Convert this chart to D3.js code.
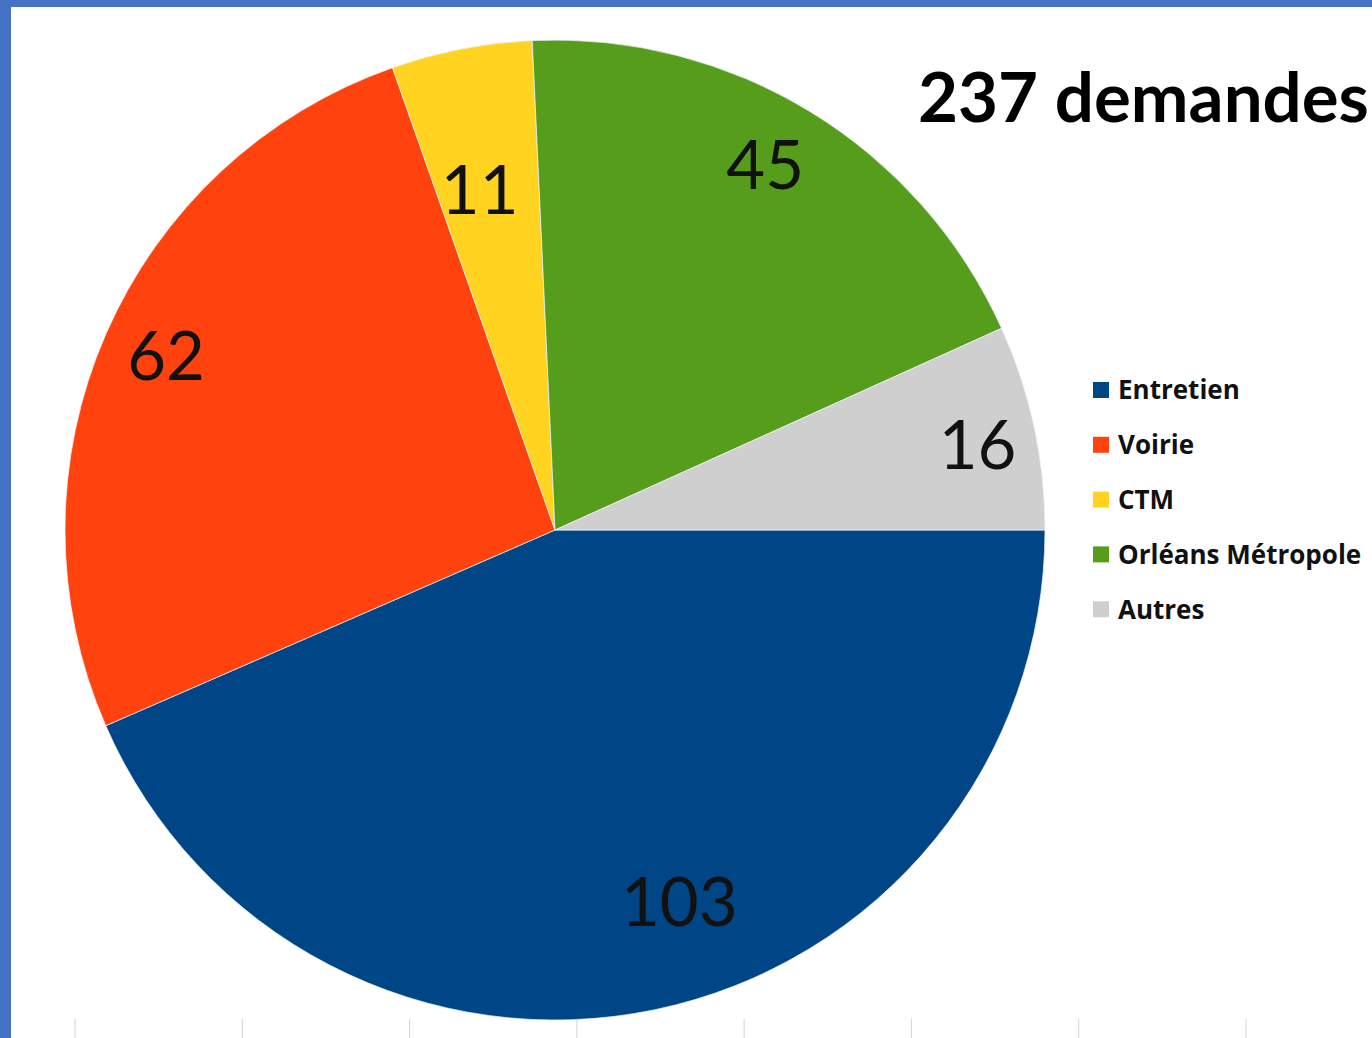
<!DOCTYPE html>
<html>
<head>
<meta charset="utf-8">
<script src="https://cdn.jsdelivr.net/npm/d3@7"></script>
<style>
  html, body { margin: 0; padding: 0; background: #fff; }
  svg { display: block; }
</style>
</head>
<body>
<div class="div_d3"></div>
<script>
const categories = ["Entretien", "Voirie", "CTM", "Orléans Métropole", "Autres"];
const values = [103, 62, 11, 45, 16];
const colors = ["#004586", "#ff420e", "#ffd320", "#579d1c", "#cfcfcf"];
const total = 237;
const titleText = total + " demandes";

// where each value label sits: part of the radius, and turn from the slice middle (degrees)
const labelRadius = [0.80, 0.87, 0.71, 0.86, 0.88];
const labelTurn = [-6.7, 0.6, -1.5, -1.6, 0.7];

const width = 1372, height = 1038;
const cx = 555, cy = 530, radius = 490;

const svg = d3.select(".div_d3")
  .append("svg")
    .attr("width", width)
    .attr("height", height);

svg.append("rect")
  .attr("width", width).attr("height", height)
  .attr("fill", "#4472c4");
svg.append("rect")
  .attr("x", 11).attr("y", 7)
  .attr("width", width - 11).attr("height", height - 7)
  .attr("fill", "#ffffff");

// faint grid ticks at the bottom edge
const tickScale = d3.scaleLinear().domain([0, 7]).range([75, 1246]);
svg.append("g")
  .selectAll("line")
  .data(d3.range(8))
  .enter()
  .append("line")
    .attr("x1", d => tickScale(d)).attr("x2", d => tickScale(d))
    .attr("y1", 1019).attr("y2", height)
    .attr("stroke", "#d4d4d4")
    .attr("stroke-width", 1);

const data = categories.map((c, i) => ({
  name: c, value: values[i], color: colors[i], lr: labelRadius[i], turn: labelTurn[i]
}));

const pie = d3.pie()
  .value(d => d.value)
  .sort(null)
  .startAngle(Math.PI / 2)
  .endAngle(Math.PI / 2 + 2 * Math.PI);

const arcs = pie(data);
const arc = d3.arc().innerRadius(0).outerRadius(radius);

const g = svg.append("g").attr("transform", `translate(${cx},${cy})`);

g.selectAll("path")
  .data(arcs)
  .enter()
  .append("path")
    .attr("d", arc)
    .attr("fill", d => d.data.color)
    .attr("stroke", "#eef4fb")
    .attr("stroke-width", 0.7);

g.selectAll("text")
  .data(arcs)
  .enter()
  .append("text")
    .attr("transform", d => {
      const r = radius * d.data.lr;
      const a = (d.startAngle + d.endAngle) / 2 + d.data.turn * Math.PI / 180;
      return `translate(${r * Math.sin(a)},${-r * Math.cos(a)})`;
    })
    .attr("text-anchor", "middle")
    .attr("dy", "0.36em")
    .attr("font-family", "Lato, 'Open Sans', sans-serif")
    .attr("font-size", "67px")
    .attr("fill", "#111")
    .text(d => d.data.value);

// title
svg.append("text")
  .attr("x", 918)
  .attr("y", 122)
  .attr("font-family", "Lato, 'Open Sans', sans-serif")
  .attr("font-weight", "bold")
  .attr("font-size", "69px")
  .attr("fill", "#000")
  .text(titleText);

// legend
const legend = svg.append("g")
  .selectAll("g")
  .data(data)
  .enter()
  .append("g")
    .attr("transform", (d, i) => `translate(1093,${390 + i * 54.8})`);

legend.append("rect")
  .attr("x", 0).attr("y", -8)
  .attr("width", 16).attr("height", 16)
  .attr("fill", d => d.color);

legend.append("text")
  .attr("x", 25)
  .attr("dy", "0.36em")
  .attr("font-family", "'Open Sans', sans-serif")
  .attr("font-weight", "bold")
  .attr("font-size", "26px")
  .attr("fill", "#111")
  .text(d => d.name);
</script>
</body>
</html>
